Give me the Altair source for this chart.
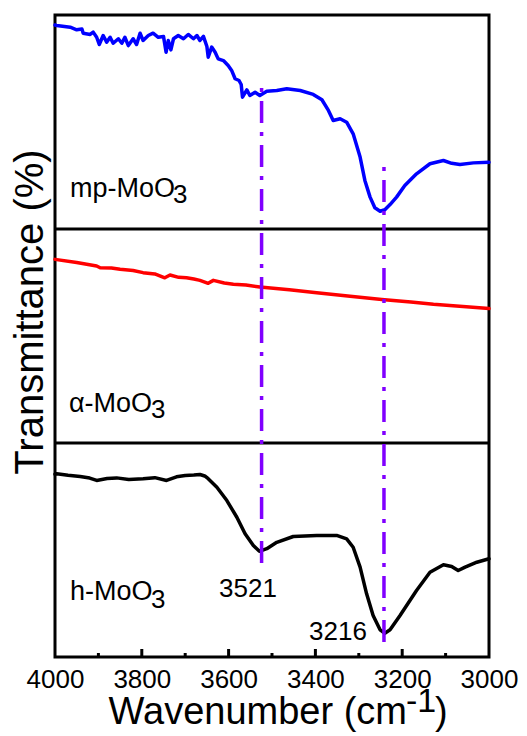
import altair as alt
import pandas as pd

# ---------------- data ----------------
# mp-MoO3 (top panel), transmittance in panel units (0 = panel bottom, 100 = panel top)
mp_wn = [4000, 3996, 3965, 3950, 3938, 3935, 3919, 3912, 3904, 3898, 3889, 3881, 3873, 3866,
         3854, 3846, 3839, 3831, 3820, 3812, 3804, 3797, 3785, 3774, 3762, 3750, 3744, 3739,
         3733, 3727, 3716, 3704, 3693, 3681, 3673, 3666, 3658, 3650, 3647, 3639, 3631, 3624,
         3612, 3601, 3593, 3585, 3576, 3571, 3568, 3558, 3551, 3539, 3528, 3512, 3489, 3466,
         3435, 3405, 3385, 3370, 3359, 3343, 3328, 3313, 3297, 3286, 3274, 3263, 3251, 3240,
         3228, 3213, 3194, 3167, 3136, 3105, 3086, 3067, 3036, 3000]
mp_t = [95.3, 95.1, 94.3, 93.1, 93.5, 91.5, 90.9, 92.0, 89.6, 86.2, 90.4, 87.3, 89.6, 86.8,
        88.9, 86.8, 89.6, 85.7, 88.9, 86.2, 91.5, 88.1, 90.4, 91.5, 89.6, 90.0, 82.6, 88.1,
        83.7, 88.9, 90.4, 88.9, 90.9, 88.9, 90.4, 88.1, 90.0, 85.3, 80.3, 85.0, 82.6, 79.5,
        78.7, 76.4, 74.1, 70.2, 69.4, 67.5, 61.6, 65.0, 62.4, 63.9, 62.4, 64.4, 64.7, 65.5,
        64.7, 62.9, 60.4, 55.4, 50.7, 51.5, 49.9, 44.5, 33.6, 22.7, 14.9, 9.9, 8.3, 9.0,
        11.4, 14.9, 20.3, 25.8, 30.5, 32.0, 30.7, 30.1, 30.9, 31.2]

# alpha-MoO3 (middle panel)
alpha_wn = [4000, 3950, 3904, 3896, 3870, 3850, 3820, 3797, 3770, 3747, 3735, 3715, 3697,
            3680, 3666, 3647, 3635, 3610, 3589, 3560, 3528, 3460, 3397, 3320, 3247, 3180,
            3128, 3060, 3000]
alpha_t = [85.8, 84.3, 82.7, 81.9, 81.8, 81.2, 80.6, 79.6, 79.0, 77.2, 78.5, 77.4, 77.2,
           76.6, 76.0, 74.6, 76.0, 74.8, 74.2, 73.8, 72.9, 71.6, 70.2, 68.6, 67.1, 65.9,
           64.8, 63.8, 62.8]

# h-MoO3 (bottom panel)
h_wn = [4000, 3996, 3970, 3942, 3920, 3904, 3880, 3858, 3830, 3797, 3770, 3743, 3720, 3700,
        3680, 3666, 3655, 3647, 3627, 3604, 3581, 3562, 3543, 3529, 3512, 3489, 3451, 3397,
        3351, 3328, 3313, 3297, 3282, 3267, 3251, 3240, 3228, 3205, 3167, 3136, 3105, 3086,
        3071, 3055, 3028, 3000]
h_t = [85.4, 85.6, 84.9, 84.3, 83.6, 82.5, 83.4, 83.7, 82.9, 83.3, 83.8, 82.5, 84.2, 84.8,
       85.0, 85.3, 84.6, 83.3, 79.3, 73.1, 65.3, 57.6, 52.1, 49.4, 50.6, 53.6, 56.3, 56.8,
       56.8, 55.2, 51.3, 42.0, 29.5, 19.4, 12.7, 11.1, 12.7, 19.4, 31.1, 39.6, 43.1, 42.3,
       40.4, 42.0, 44.3, 45.9]

series_names = ["mp-MoO3", "α-MoO3", "h-MoO3"]
series_offsets = [200, 100, 0]
series_colors = ["#0000FF", "#FF0000", "#000000"]

# marked peaks (vertical dash-dot guides), in stacked units
peak_wn = [3524, 3242]
peak_top = [268.7, 232.2]
peak_bottom = [43.9, 7.0]
peak_labels = ["3521", "3216"]

panel_breaks = [100, 200]
major_ticks = [4000, 3800, 3600, 3400, 3200, 3000]
minor_ticks = [3900, 3700, 3500, 3300, 3100]

sample_labels = ["mp-MoO", "α-MoO", "h-MoO"]
subscript = "3"

# ---------------- build tables ----------------
rows = []
for name, off, wn, t in zip(series_names, series_offsets,
                            [mp_wn, alpha_wn, h_wn], [mp_t, alpha_t, h_t]):
    for w, v in zip(wn, t):
        rows.append({"series": name, "wn": w, "y": v + off})
df = pd.DataFrame(rows)

peaks_df = pd.DataFrame({"wn": peak_wn, "y": peak_bottom, "y2": peak_top})
breaks_df = pd.DataFrame({"y": panel_breaks})
major_df = pd.DataFrame({"wn": major_ticks[1:-1]})
minor_df = pd.DataFrame({"wn": minor_ticks})
one = pd.DataFrame({"a": [0]})

FONT = "Liberation Sans"
W, H = 434, 642

xscale = alt.Scale(domain=[3000, 4000], reverse=True, nice=False, zero=False)
yscale = alt.Scale(domain=[0, 300], nice=False, zero=False)
xaxis = alt.Axis(values=major_ticks, format="d", labelFontSize=26, labelFont=FONT,
                 labelColor="black", ticks=False, tickSize=0, domain=False, grid=False,
                 title=None, labelPadding=9, labelFlush=False, labelOverlap=False,
                 labelBound=False)

lines = alt.Chart(df).mark_line(strokeWidth=3.5, strokeJoin="round", strokeCap="round").encode(
    x=alt.X("wn:Q", scale=xscale, axis=xaxis),
    y=alt.Y("y:Q", scale=yscale, axis=None),
    color=alt.Color("series:N", scale=alt.Scale(domain=series_names, range=series_colors),
                    legend=None),
    detail="series:N",
)

seps = alt.Chart(breaks_df).mark_rule(strokeWidth=3, color="black").encode(
    y=alt.Y("y:Q", scale=yscale, axis=None)
)

guides = alt.Chart(peaks_df).mark_rule(strokeWidth=3.5, color="#8000FF",
                                       strokeDash=[22, 9, 4, 9]).encode(
    x=alt.X("wn:Q", scale=xscale, axis=xaxis),
    y=alt.Y("y:Q", scale=yscale, axis=None),
    y2="y2:Q",
)

major = alt.Chart(major_df).mark_rule(strokeWidth=3, color="black").encode(
    x=alt.X("wn:Q", scale=xscale, axis=xaxis), y=alt.value(H), y2=alt.value(H - 8)
)
minor = alt.Chart(minor_df).mark_rule(strokeWidth=3, color="black").encode(
    x=alt.X("wn:Q", scale=xscale, axis=xaxis), y=alt.value(H), y2=alt.value(H - 4)
)


def txt(text, x, y, size, align="left", baseline="alphabetic", angle=0):
    kw = dict(text=text, font=FONT, fontSize=size, align=align, baseline=baseline,
              color="black")
    if angle:
        kw["angle"] = angle
    return alt.Chart(one).mark_text(**kw).encode(x=alt.value(x), y=alt.value(y))


texts = [
    txt(sample_labels[0], 15, 182, 27), txt(subscript, 118, 188, 26),
    txt(sample_labels[1], 14, 397, 27), txt(subscript, 96, 403, 26),
    txt(sample_labels[2], 15, 585, 27), txt(subscript, 96, 593, 26),
    txt(peak_labels[0], 164, 582, 26),
    txt(peak_labels[1], 254, 625, 26),
    # axis titles
    txt("Wavenumber (cm", 352, 709, 38, align="right"),
    txt("-1", 351, 697, 34),
    txt(")", 380, 709, 38),
    txt("Transmittance (%)", -12, 297, 40, align="center", angle=270),
]

chart = alt.layer(lines, seps, guides, major, minor, *texts).properties(
    width=W, height=H,
    autosize=alt.AutoSizeParams(type="none"),
    padding={"left": 47, "top": 7, "right": 30, "bottom": 80},
).configure_view(stroke="black", strokeWidth=3)

chart.save("out.html", embed_options={"renderer": "svg", "actions": False})
